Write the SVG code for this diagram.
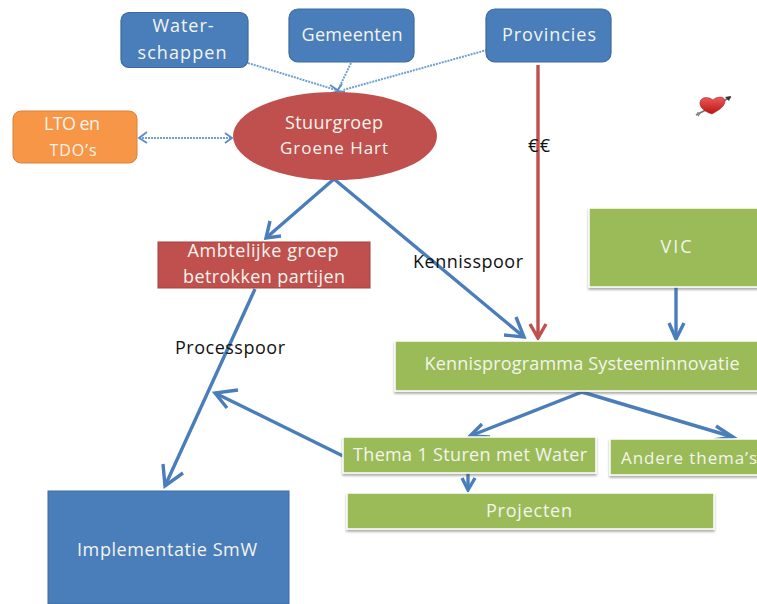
<svg xmlns="http://www.w3.org/2000/svg" width="757" height="604" viewBox="0 0 757 604">
<style>
text{font-family:"Open Sans","Liberation Sans",sans-serif;font-size:18px;text-anchor:middle}
.w{fill:#f4f4ee}
.k{fill:#111}
.blue{fill:#4a7ebb;stroke:#3a6a9f;stroke-width:1.2}
.green{fill:#9bbb59;stroke:#fff;stroke-width:1.5;filter:url(#sh)}
.con{fill:none;stroke:#4a7ebb;stroke-width:3.4}
.dot{fill:none;stroke:#6f9fd2;stroke-width:2;stroke-dasharray:2 1}
.head{fill:none;stroke:#4a7ebb;stroke-width:3.4}
.dh{fill:none;stroke:#5a8cc4;stroke-width:1.8}
</style>
<defs>
<filter id="sh" x="-5%" y="-10%" width="110%" height="125%"><feDropShadow dx="0" dy="2" stdDeviation="1.2" flood-color="#555" flood-opacity="0.5"/></filter>
<linearGradient id="hg" x1="0" y1="0" x2="0" y2="1"><stop offset="0" stop-color="#ee5a5a"/><stop offset="1" stop-color="#b81414"/></linearGradient>
</defs>
<rect width="757" height="604" fill="#fff"/>
<g id="connectors">
<path class="dot" d="M248 63L336 90M351 63L338 90M487 50L343 90M139 138H232"/>
<path class="dh" d="M330 85L339 91L331 93M342 84L337 91L345 92M147 132L139 138L147 143M225 133L232 138L225 143"/>
<path class="con" d="M334 179L266 238M334 179L524 337M255 289L165 486M343 456L215 393M676 287V339M582 392L470 436M582 392L733 437M468 472V490"/>
<path class="head" d="M270 221L266 238L281 236M504 335L524 337L516 317M183 473L165 486L163 464M227 408L215 393L238 390M669 323L676 339L684 323M490 437L470 436L482 424M716 426L733 437L714 440M462 478L468 490L475 478"/>
<path fill="none" stroke="#c0504d" stroke-width="3.4" d="M538 65V338M530 324L538 338L546 324"/>
</g>
<g id="waterschappen"><rect class="blue" x="121" y="12.500" width="127" height="55" rx="8"/><text class="w" x="183" y="32" textLength="61">Water-</text><text class="w" x="182" y="59" textLength="89">schappen</text></g>
<g id="gemeenten"><rect class="blue" x="289" y="9" width="125" height="53" rx="9"/><text class="w" x="352" y="41" textLength="101">Gemeenten</text></g>
<g id="provincies"><rect class="blue" x="486" y="9" width="125" height="53" rx="9"/><text class="w" x="549" y="41" textLength="94">Provincies</text></g>
<g id="lto"><rect x="13" y="111" width="124" height="52" rx="8" fill="#f79646" stroke="#d98235"/><text class="w" x="72" y="130" textLength="56">LTO en</text><text class="w" x="73" y="156" style="font-size:16px" textLength="47">TDO’s</text></g>
<g id="stuurgroep"><ellipse cx="335" cy="136" rx="102" ry="44" fill="#c0504d"/><text class="w" x="334" y="129" textLength="98">Stuurgroep</text><text class="w" x="334" y="154" style="font-size:17px" textLength="108">Groene Hart</text></g>
<g id="ambtelijke"><rect x="158" y="242" width="212" height="46" fill="#c0504d" stroke="#a8403d"/><text class="w" x="263" y="257" textLength="151">Ambtelijke groep</text><text class="w" x="264" y="283" textLength="162">betrokken partijen</text></g>
<g id="vic"><rect class="green" x="589" y="208" width="175" height="79"/><text class="w" x="676" y="253" textLength="31">VIC</text></g>
<g id="kennisprogramma"><rect class="green" x="395" y="341" width="375" height="50"/><text class="w" x="582" y="370" textLength="315">Kennisprogramma Systeeminnovatie</text></g>
<g id="thema1"><rect class="green" x="343" y="437" width="253" height="36"/><text class="w" x="470" y="461" textLength="234">Thema 1 Sturen met Water</text></g>
<g id="andere"><rect class="green" x="610" y="439" width="160" height="36"/><text class="w" x="689" y="464" style="font-size:17px" textLength="136">Andere thema’s</text></g>
<g id="projecten"><rect class="green" x="347" y="493" width="367" height="36"/><text class="w" x="529" y="517" textLength="86">Projecten</text></g>
<g id="implementatie"><rect x="48" y="491" width="241" height="113" fill="#4a7ebb" stroke="#3a6a9f"/><text class="w" x="167" y="556" textLength="180">Implementatie SmW</text></g>
<g id="labels">
<text class="k" x="539" y="152" textLength="22">€€</text>
<text class="k" x="468" y="268" textLength="110">Kennisspoor</text>
<text class="k" x="230" y="354" textLength="110">Processpoor</text>
</g>
<g id="heart">
<path d="M696 115L731 97" stroke="#777" stroke-width="1.800"/>
<path d="M712 114C706 112 699 108 700 102C701 97 708 96 713 100C717 96 725 96 725 101C725 107 717 111 712 114Z" fill="url(#hg)" stroke="#9c1414" stroke-width=".5"/>
<path d="M725 97L731 96L729 101Z" fill="#333"/>
<path d="M697 112L701 113L698 117Z" fill="#888"/>
</g>
</svg>
